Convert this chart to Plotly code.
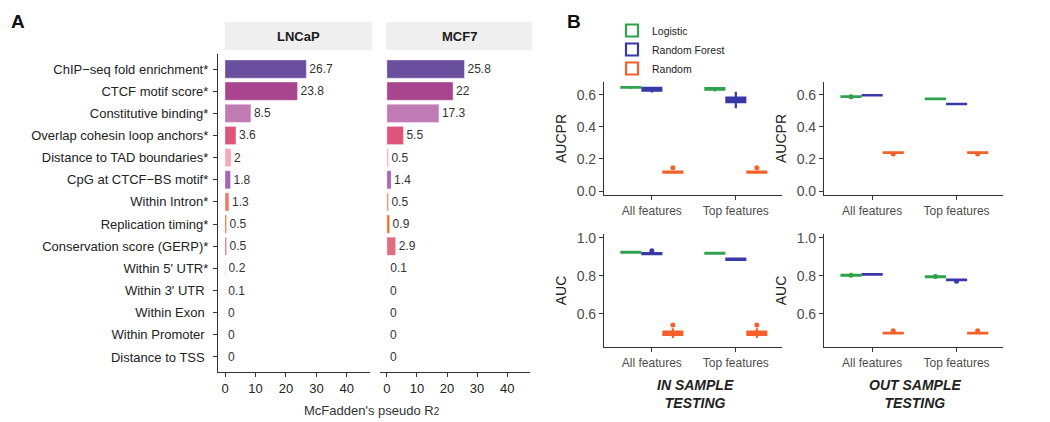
import plotly.graph_objects as go

W, H = 1050, 422
FONT = "Liberation Sans, Arial, sans-serif"

# ---------------- Panel A data ----------------
features = [
    "ChIP\u2212seq fold enrichment*", "CTCF motif score*", "Constitutive binding*",
    "Overlap cohesin loop anchors*", "Distance to TAD boundaries*", "CpG at CTCF\u2212BS motif*",
    "Within Intron*", "Replication timing*", "Conservation score (GERP)*", "Within 5' UTR*",
    "Within 3' UTR ", "Within Exon ", "Within Promoter ", "Distance to TSS ",
]
lncap_r2 = [26.7, 23.8, 8.5, 3.6, 2, 1.8, 1.3, 0.5, 0.5, 0.2, 0.1, 0, 0, 0]
mcf7_r2 = [25.8, 22, 17.3, 5.5, 0.5, 1.4, 0.5, 0.9, 2.9, 0.1, 0, 0, 0, 0]
cell_lines = ["LNCaP", "MCF7"]
r2_ticks = [0, 10, 20, 30, 40]

feature_colors = [
    "#6a4f9e", "#a9448f", "#c07ab4", "#df5479", "#f6a9b9", "#a566b2",
    "#ef7b6b", "#f46b2b", "#df6e80", "#c8c8c8", "#dcdcdc", "#e8e8e8", "#e8e8e8", "#e8e8e8",
]

# ---------------- Panel B data ----------------
models = ["Logistic", "Random Forest", "Random"]
feature_sets = ["All features", "Top features"]
# each box: [lower whisker, q1, median, q3, upper whisker] for All / Top features
in_aucpr_logistic = [[0.638, 0.645, 0.647, 0.649, 0.652], [0.622, 0.633, 0.638, 0.643, 0.648]]
in_aucpr_rf = [[0.615, 0.627, 0.636, 0.645, 0.650], [0.517, 0.555, 0.569, 0.584, 0.620]]
in_aucpr_random = [[0.112, 0.115, 0.118, 0.121, 0.125], [0.112, 0.115, 0.118, 0.121, 0.125]]
out_aucpr_logistic = [[0.585, 0.588, 0.590, 0.592, 0.595], [0.573, 0.574, 0.576, 0.578, 0.579]]
out_aucpr_rf = [[0.596, 0.597, 0.598, 0.599, 0.600], [0.541, 0.542, 0.543, 0.545, 0.546]]
out_aucpr_random = [[0.236, 0.238, 0.240, 0.242, 0.244], [0.236, 0.238, 0.240, 0.242, 0.244]]
in_auc_logistic = [[0.921, 0.923, 0.925, 0.927, 0.929], [0.915, 0.918, 0.920, 0.922, 0.925]]
in_auc_rf = [[0.912, 0.915, 0.918, 0.921, 0.925], [0.882, 0.884, 0.888, 0.892, 0.896]]
in_auc_random = [[0.473, 0.490, 0.498, 0.507, 0.525], [0.473, 0.490, 0.498, 0.507, 0.525]]
out_auc_logistic = [[0.800, 0.802, 0.804, 0.806, 0.808], [0.792, 0.794, 0.796, 0.798, 0.800]]
out_auc_rf = [[0.806, 0.807, 0.809, 0.810, 0.811], [0.776, 0.778, 0.779, 0.781, 0.783]]
out_auc_random = [[0.495, 0.497, 0.499, 0.501, 0.503], [0.495, 0.497, 0.499, 0.501, 0.503]]

# outliers: (model, feature set, value)
in_aucpr_out_model = ["Random", "Random"]
in_aucpr_out_set = ["All features", "Top features"]
in_aucpr_out_val = [0.146, 0.146]
out_aucpr_out_model = ["Logistic", "Random", "Random"]
out_aucpr_out_set = ["All features", "All features", "Top features"]
out_aucpr_out_val = [0.589, 0.231, 0.231]
in_auc_out_model = ["Random Forest", "Random", "Random"]
in_auc_out_set = ["All features", "All features", "Top features"]
in_auc_out_val = [0.933, 0.542, 0.542]
out_auc_out_model = ["Logistic", "Random", "Logistic", "Random Forest", "Random"]
out_auc_out_set = ["All features", "All features", "Top features", "Top features", "Top features"]
out_auc_out_val = [0.804, 0.511, 0.797, 0.772, 0.511]

model_colors = {"Logistic": "#2ea24c", "Random Forest": "#3838a6", "Random": "#f4602b"}


def px_x(p):
    return p / W


def px_y(p):
    return 1 - p / H


fig = go.Figure()

# ---- Panel A bars ----
for i, (vals, ax) in enumerate([(lncap_r2, ""), (mcf7_r2, "2")]):
    fig.add_trace(go.Bar(
        y=features, x=vals, orientation="h",
        marker=dict(color=feature_colors, line=dict(width=0.6, color="rgba(255,255,255,0.6)")),
        text=[f"{v:g}" for v in vals], textposition="outside",
        textfont=dict(size=12, color="#333333", family=FONT),
        constraintext="none", cliponaxis=False,
        xaxis="x" + ax, yaxis="y" + ax, showlegend=False, hoverinfo="skip",
    ))

# ---- Panel B boxes ----
panels = [
    ("x3", "y3", [in_aucpr_logistic, in_aucpr_rf, in_aucpr_random],
     in_aucpr_out_model, in_aucpr_out_set, in_aucpr_out_val),
    ("x4", "y4", [out_aucpr_logistic, out_aucpr_rf, out_aucpr_random],
     out_aucpr_out_model, out_aucpr_out_set, out_aucpr_out_val),
    ("x5", "y5", [in_auc_logistic, in_auc_rf, in_auc_random],
     in_auc_out_model, in_auc_out_set, in_auc_out_val),
    ("x6", "y6", [out_auc_logistic, out_auc_rf, out_auc_random],
     out_auc_out_model, out_auc_out_set, out_auc_out_val),
]
for pi, (xa, ya, stats, om, os_, ov) in enumerate(panels):
    for mi, m in enumerate(models):
        s = stats[mi]
        fig.add_trace(go.Box(
            x=feature_sets,
            lowerfence=[b[0] for b in s], q1=[b[1] for b in s], median=[b[2] for b in s],
            q3=[b[3] for b in s], upperfence=[b[4] for b in s],
            name=m, legendgroup=m, showlegend=(pi == 0), offsetgroup=m,
            line=dict(color=model_colors[m], width=2.2), fillcolor="white",
            whiskerwidth=0, boxpoints=False, xaxis=xa, yaxis=ya, hoverinfo="skip",
        ))
    # outliers
    for mi, m in enumerate(models):
        xs = [s for mm, s in zip(om, os_) if mm == m]
        ys = [v for mm, v in zip(om, ov) if mm == m]
        if not xs:
            continue
        fig.add_trace(go.Box(
            x=xs, y=ys, name=m, legendgroup=m, showlegend=False, offsetgroup=m,
            boxpoints="all", jitter=0, pointpos=0,
            marker=dict(color=model_colors[m], size=5),
            line=dict(color="rgba(0,0,0,0)", width=0), fillcolor="rgba(0,0,0,0)",
            whiskerwidth=0, xaxis=xa, yaxis=ya, hoverinfo="skip",
        ))

axis_col = "#333333"
tick_font_a = dict(size=13, color="#222222", family=FONT)
tick_font_b = dict(size=14, color="#4d4d4d", family=FONT)

ydom_a = [px_y(372), px_y(54)]
r2_range = [-2.3, 47.6]
layout = dict(
    width=W, height=H, margin=dict(l=0, r=0, t=0, b=0, autoexpand=False),
    paper_bgcolor="white", plot_bgcolor="white",
    font=dict(family=FONT, color="#222222"),
    bargap=0.18, boxmode="group", boxgap=0.25, boxgroupgap=0.1,
    xaxis=dict(domain=[px_x(218), px_x(370)], range=r2_range, anchor="y", automargin=False,
               showline=True, linecolor=axis_col, linewidth=1.2, ticks="outside", ticklen=4,
               tickcolor=axis_col, tickvals=r2_ticks, tickfont=tick_font_a, showgrid=False, zeroline=False),
    yaxis=dict(domain=ydom_a, range=[13.68, -0.68], anchor="x", automargin=False,
               showline=True, linecolor=axis_col, linewidth=1.2, ticks="outside", ticklen=4,
               tickcolor=axis_col, tickfont=tick_font_a, showgrid=False, zeroline=False, ticklabelstandoff=2),
    xaxis2=dict(domain=[px_x(380), px_x(530)], range=r2_range, anchor="y2", automargin=False,
                showline=True, linecolor=axis_col, linewidth=1.2, ticks="outside", ticklen=4,
                tickcolor=axis_col, tickvals=r2_ticks, tickfont=tick_font_a, showgrid=False, zeroline=False),
    yaxis2=dict(domain=ydom_a, range=[13.68, -0.68], anchor="x2", showline=False, automargin=False,
                showticklabels=False, ticks="", showgrid=False, zeroline=False),
    legend=dict(x=px_x(612), y=px_y(16), xanchor="left", yanchor="top",
                font=dict(size=10.5, color="#222222", family=FONT), bgcolor="rgba(0,0,0,0)",
                tracegroupgap=0, itemwidth=30, traceorder="normal"),
)

xd_in = [px_x(604), px_x(782)]
xd_out = [px_x(824), px_x(1003)]
yd_top = [px_y(195), px_y(82)]
yd_bot = [px_y(347), px_y(234)]
cat_range = [-0.57, 1.55]
for xa, ya, xd, yd, yr, tv, ytitle in [
    ("xaxis3", "yaxis3", xd_in, yd_top, [-0.025, 0.681], [0, 0.2, 0.4, 0.6], "AUCPR"),
    ("xaxis4", "yaxis4", xd_out, yd_top, [-0.025, 0.681], [0, 0.2, 0.4, 0.6], "AUCPR"),
    ("xaxis5", "yaxis5", xd_in, yd_bot, [0.426, 1.021], [0.6, 0.8, 1.0], "AUC"),
    ("xaxis6", "yaxis6", xd_out, yd_bot, [0.426, 1.021], [0.6, 0.8, 1.0], "AUC"),
]:
    n = xa[5:]
    layout[xa] = dict(domain=xd, anchor="y" + n, range=cat_range, type="category",
                      categoryorder="array", categoryarray=feature_sets, automargin=False,
                      showline=True, linecolor=axis_col, linewidth=1.2, ticks="outside", ticklen=4,
                      tickcolor=axis_col, tickfont=dict(size=12, color="#4d4d4d", family=FONT),
                      showgrid=False, zeroline=False)
    layout[ya] = dict(domain=yd, anchor="x" + n, range=yr, tickvals=tv, tickformat=".1f",
                      automargin=False,
                      showline=True, linecolor=axis_col, linewidth=1.2, ticks="outside", ticklen=4,
                      tickcolor=axis_col, tickfont=tick_font_b, showgrid=False, zeroline=False,
                      title=dict(text=ytitle, font=dict(size=14, color="#222222", family=FONT), standoff=6))

fig.update_layout(**layout)

# strips
for name, x0, x1 in [(cell_lines[0], 225, 372), (cell_lines[1], 386, 532)]:
    fig.add_shape(type="rect", xref="paper", yref="paper", x0=px_x(x0), x1=px_x(x1),
                  y0=px_y(50), y1=px_y(22), fillcolor="#efefef", line=dict(width=0), layer="below")
    fig.add_annotation(x=px_x((x0 + x1) / 2), y=px_y(36), xref="paper", yref="paper",
                       xanchor="center", yanchor="middle",
                       text=f"<b>{name}</b>", showarrow=False,
                       font=dict(size=13, color="#1a1a1a", family=FONT))

annots = [
    dict(x=px_x(18), y=px_y(22), text="<b>A</b>", size=19, color="#111111"),
    dict(x=px_x(574), y=px_y(22), text="<b>B</b>", size=19, color="#111111"),
    dict(x=px_x(372), y=px_y(410),
         text="McFadden's pseudo R<span style='font-size:10px'>2</span>", size=13, color="#333333"),
    dict(x=px_x(695), y=px_y(394), text="<b><i>IN SAMPLE<br>TESTING</i></b>", size=14, color="#222222"),
    dict(x=px_x(915), y=px_y(394), text="<b><i>OUT SAMPLE<br>TESTING</i></b>", size=14, color="#222222"),
]
for a in annots:
    fig.add_annotation(x=a["x"], y=a["y"], xref="paper", yref="paper", text=a["text"],
                       xanchor="center", yanchor="middle",
                       showarrow=False, font=dict(size=a["size"], color=a["color"], family=FONT))

fig.write_html("out.html", config={"displayModeBar": False},
               post_script="document.body.style.margin='0';")
